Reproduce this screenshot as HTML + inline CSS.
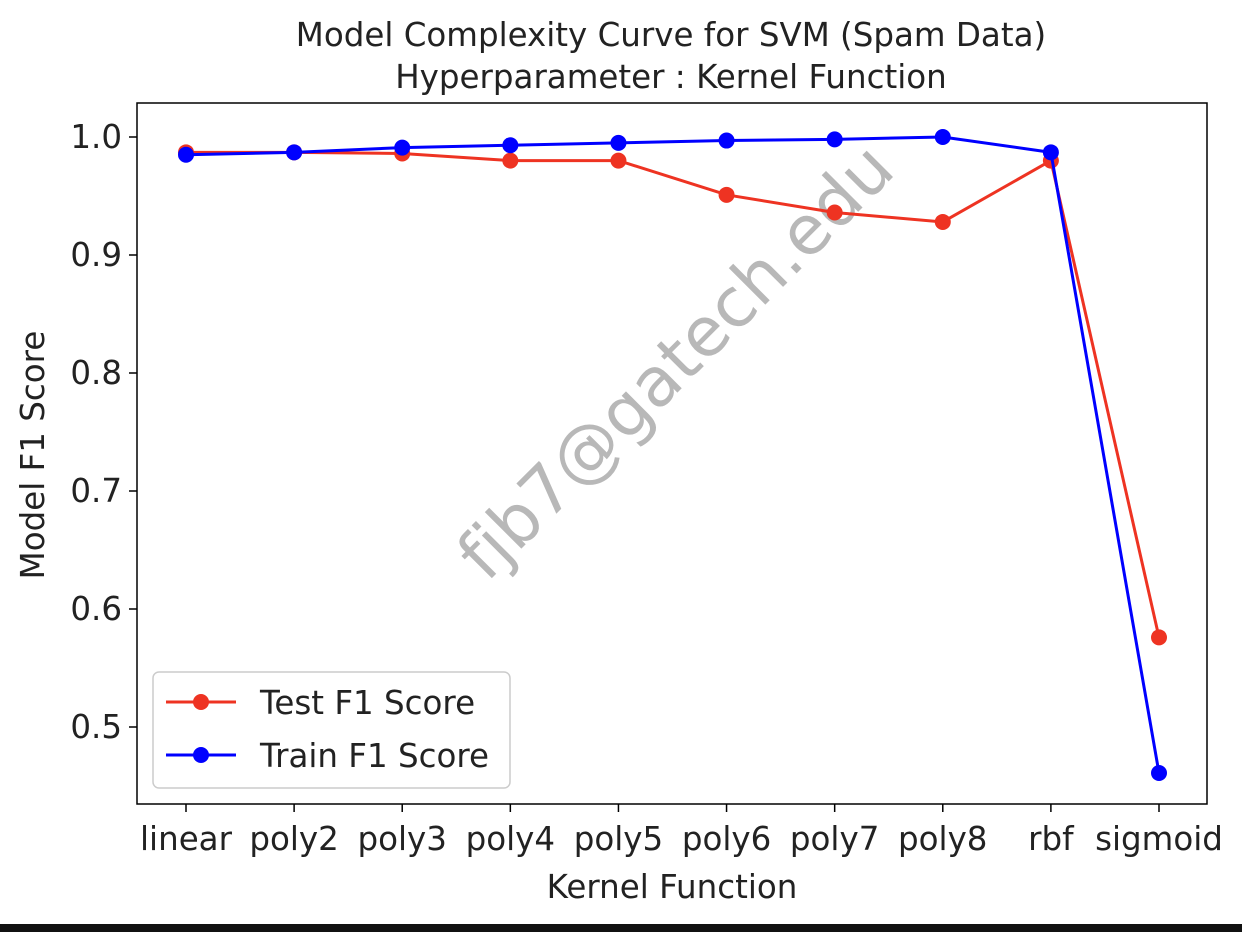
<!DOCTYPE html>
<html><head><meta charset="utf-8"><style>
body{margin:0;background:#fff;}
svg text{font-family:"DejaVu Sans","Liberation Sans",sans-serif;fill:#222;}
</style></head><body>
<svg width="1242" height="932">
<rect x="0" y="924" width="1242" height="8" fill="#111"/>
<text x="671" y="46" font-size="32.5" text-anchor="middle">Model Complexity Curve for SVM (Spam Data)</text>
<text x="671" y="88" font-size="32.5" text-anchor="middle">Hyperparameter : Kernel Function</text>
<text x="672" y="898" font-size="32.5" text-anchor="middle">Kernel Function</text>
<text transform="translate(44,455) rotate(-90)" font-size="32.5" text-anchor="middle">Model F1 Score</text>
<text transform="translate(692,378) rotate(-45)" font-size="68" text-anchor="middle" style="fill:#b8b8b8">fjb7@gatech.edu</text>
<g id="plot"></g>
<rect x="137" y="103" width="1070" height="701" fill="none" stroke="#000" stroke-width="1.5"/>
<g>
<rect x="153" y="672" width="357" height="116" rx="6" fill="#fff" stroke="#ccc" stroke-width="1.5"/>
<line x1="166" y1="702" x2="236" y2="702" stroke="#ee3322" stroke-width="3"/>
<circle cx="201" cy="702" r="8" fill="#ee3322"/>
<text x="260" y="714" font-size="32.5">Test F1 Score</text>
<line x1="166" y1="755" x2="236" y2="755" stroke="#0000ff" stroke-width="3"/>
<circle cx="201" cy="755" r="8" fill="#0000ff"/>
<text x="260" y="767" font-size="32.5">Train F1 Score</text>
</g>
</svg>
<script>
const categories=["linear","poly2","poly3","poly4","poly5","poly6","poly7","poly8","rbf","sigmoid"];
const testScores=[0.987,0.987,0.986,0.980,0.980,0.951,0.936,0.928,0.980,0.576];
const trainScores=[0.985,0.987,0.991,0.993,0.995,0.997,0.998,1.000,0.987,0.461];
const yTicks=[0.5,0.6,0.7,0.8,0.9,1.0];
const NS="http://www.w3.org/2000/svg";
const g=document.getElementById("plot");
function xS(i){return 186+i*(1159-186)/(categories.length-1);}
function yS(v){return 137+(1.0-v)*1180;}
function mk(t,a){const e=document.createElementNS(NS,t);for(const k in a)e.setAttribute(k,a[k]);g.appendChild(e);return e;}
yTicks.forEach(v=>{
 const l=mk("line",{x1:129,x2:137,y1:yS(v),y2:yS(v),stroke:"#000","stroke-width":1.5});
 
 
 const t=mk("text",{x:122,y:yS(v)+11,"font-size":32.5,"text-anchor":"end"});t.textContent=v.toFixed(1);
 
 
});
categories.forEach((c,i)=>{
 const l=mk("line",{x1:xS(i),x2:xS(i),y1:804,y2:812,stroke:"#000","stroke-width":1.5});
 
 
 const t=mk("text",{x:xS(i),y:850,"font-size":32.5,"text-anchor":"middle"});t.textContent=c;
 
 
});
function series(vals,color,name){
 const p=mk("polyline",{points:vals.map((v,i)=>xS(i)+","+yS(v)).join(" "),fill:"none",stroke:color,"stroke-width":3});
 
 
 vals.forEach((v,i)=>{const c=mk("circle",{cx:xS(i),cy:yS(v),r:8,fill:color});
 
 });
}
series(testScores,"#ee3322","test");
series(trainScores,"#0000ff","train");
</script>
</body></html>
